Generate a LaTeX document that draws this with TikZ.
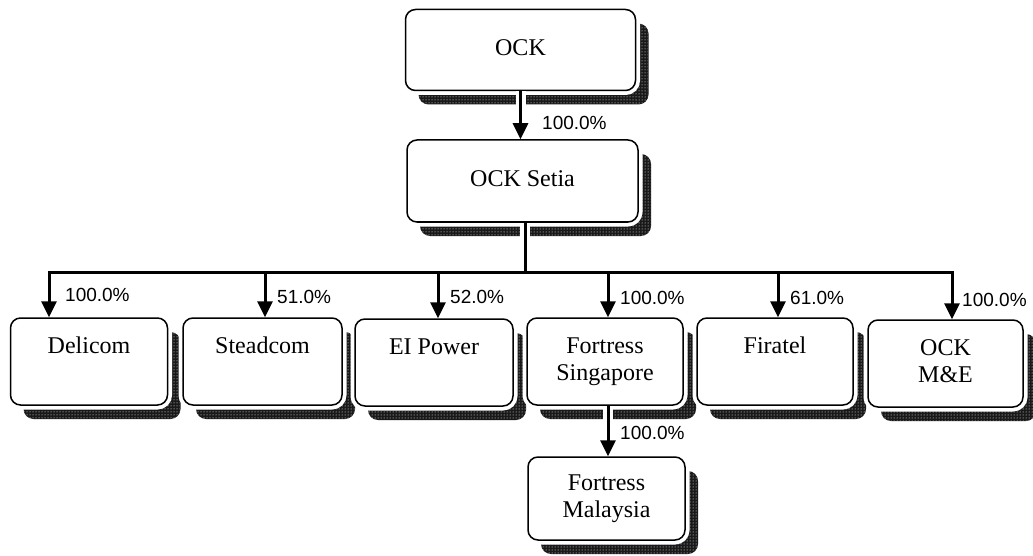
\documentclass[tikz,border=0pt]{standalone}
\usepackage{fontspec}
\setmainfont{Liberation Serif}
\newfontfamily\pctfont{Liberation Sans}
\usetikzlibrary{arrows.meta,shadows,patterns}
\begin{document}
\begin{tikzpicture}[x=1pt,y=-1pt,
  org/.style={draw=black, line width=1.5pt, rounded corners=10pt, fill=white,
    align=center, font=\fontsize{24}{27}\selectfont, inner sep=0pt,
    drop shadow={shadow xshift=13pt, shadow yshift=-14pt, opacity=1, fill=black!90},
    drop shadow={shadow xshift=13pt, shadow yshift=-14pt, opacity=1, pattern=dots, pattern color=white},
    preaction={draw=white, line width=9pt}},
  topbox/.style={org, minimum width=230pt, minimum height=81pt},
  childbox/.style={org, minimum width=157pt, minimum height=87pt},
  pct/.style={font=\pctfont\fontsize{19}{22}\selectfont, anchor=west, inner sep=0pt},
  arr/.style={line width=3pt, -{Triangle[length=16pt,width=15pt]}},
  gap/.style={preaction={draw=white, line width=10pt, arrows=-}},
  busline/.style={line width=3pt, line cap=rect}]
\useasboundingbox (0,0) rectangle (1033,556);
\fill[white] (0,0) rectangle (1033,556);

% boxes
\node[topbox] (ock) at (520.5,50) {\strut OCK};
\node[topbox, minimum width=231pt, minimum height=82pt] (setia) at (522.5,181) {\strut OCK Setia};
\node[childbox] (delicom) at (89,361.5) {\strut Delicom\\\strut};
\node[childbox, minimum width=159pt] (steadcom) at (262.5,361.5) {\strut Steadcom\\\strut};
\node[childbox, minimum width=158pt] (eipower) at (434,362.5) {\strut EI Power\\\strut};
\node[childbox, minimum width=156pt] (forts) at (605,361.5) {\strut Fortress\\\strut Singapore};
\node[childbox, minimum width=156pt] (firatel) at (775,361.5) {\strut Firatel\\\strut};
\node[childbox, minimum width=155pt] (ockme) at (945.5,363.5) {\strut OCK\\\strut M\&E};
\node[childbox, minimum height=83pt] (fortm) at (606.5,498.5) {\strut Fortress\\\strut Malaysia};

% connectors
\draw[arr, gap] (ock.south) -- (ock.south |- setia.north);
\coordinate (j) at (525,272);
\coordinate (t1) at (49,272);
\coordinate (t2) at (265,272);
\coordinate (t3) at (438,272);
\coordinate (t4) at (608,272);
\coordinate (t5) at (778,272);
\coordinate (t6) at (952,272);
\draw[line width=3pt, gap] (setia.south -| j) -- (j);
\draw[busline] (t1) -- (t6);
\draw[arr] (t1) -- (t1 |- delicom.north);
\draw[arr] (t2) -- (t2 |- steadcom.north);
\draw[arr] (t3) -- (t3 |- eipower.north);
\draw[arr] (t4) -- (t4 |- forts.north);
\draw[arr] (t5) -- (t5 |- firatel.north);
\draw[arr] (t6) -- (t6 |- ockme.north);
\draw[arr, gap] (t4 |- forts.south) -- (t4 |- fortm.north);

% labels
\node[pct] (l0) at (542,123) {100.0\%};
\node[pct] (l1) at (65,295) {100.0\%};
\node[pct] (l2) at (277,297) {51.0\%};
\node[pct] (l3) at (450,297) {52.0\%};
\node[pct] (l4) at (620,298) {100.0\%};
\node[pct] (l5) at (790,298) {61.0\%};
\node[pct] (l6) at (962,300) {100.0\%};
\node[pct] (l7) at (620,433) {100.0\%};
\end{tikzpicture}
\end{document}
